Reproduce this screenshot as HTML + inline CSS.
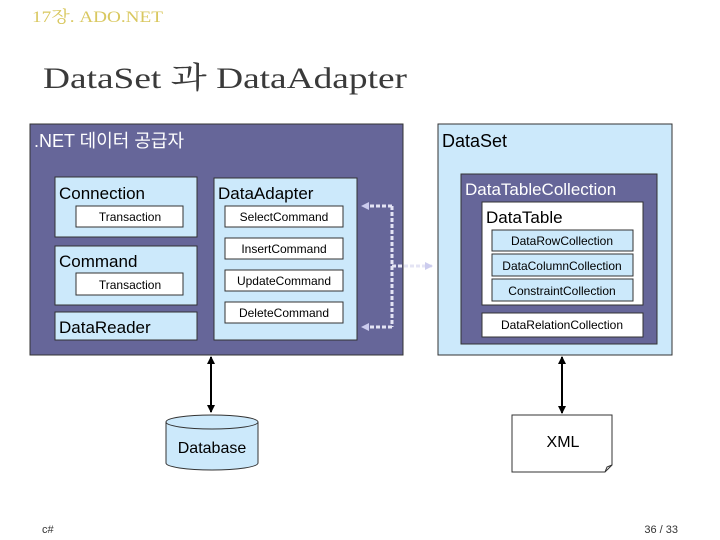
<!DOCTYPE html>
<html><head><meta charset="utf-8"><style>
body{margin:0;background:#fff;}
svg{display:block;}
text{font-family:"Liberation Sans","Noto Sans CJK KR",sans-serif;}
</style></head><body>
<svg width="720" height="540" xmlns="http://www.w3.org/2000/svg">
<defs>
<marker id="ah" markerWidth="8" markerHeight="8" refX="7" refY="4" orient="auto-start-reverse" markerUnits="userSpaceOnUse"><path d="M0,0 L8,4 L0,8 z" fill="#000"/></marker>
<marker id="dh" markerWidth="8" markerHeight="8" refX="7" refY="4" orient="auto" markerUnits="userSpaceOnUse"><path d="M0,0 L8,4 L0,8 z" fill="#ccccee"/></marker>
</defs>
<text x="32" y="22" font-size="16" fill="#d9c860" textLength="131" lengthAdjust="spacingAndGlyphs" style="font-family:'Liberation Serif','Noto Serif CJK SC',serif">17장. ADO.NET</text>
<text x="43" y="88" font-size="30" fill="#3a3a3a" textLength="364" lengthAdjust="spacingAndGlyphs" style="font-family:'Liberation Serif','Noto Serif CJK SC',serif">DataSet 과 DataAdapter</text>

<rect x="30" y="124" width="373" height="231" fill="#666699" stroke="#333"/>
<text x="34" y="147" font-size="18" fill="#fff">.NET 데이터 공급자</text>

<rect x="55" y="177" width="142" height="60" fill="#cce9fb" stroke="#333"/>
<text x="59" y="199" font-size="17" fill="#000">Connection</text>
<rect x="76" y="206" width="107" height="21" fill="#fff" stroke="#333"/>
<text x="130" y="221" font-size="12" text-anchor="middle">Transaction</text>

<rect x="55" y="246" width="142" height="59" fill="#cce9fb" stroke="#333"/>
<text x="59" y="267" font-size="17">Command</text>
<rect x="76" y="273" width="107" height="22" fill="#fff" stroke="#333"/>
<text x="130" y="289" font-size="12" text-anchor="middle">Transaction</text>

<rect x="55" y="312" width="142" height="28" fill="#cce9fb" stroke="#333"/>
<text x="59" y="333" font-size="17">DataReader</text>

<rect x="214" y="178" width="143" height="162" fill="#cce9fb" stroke="#333"/>
<text x="218" y="199" font-size="17">DataAdapter</text>
<rect x="225" y="206" width="118" height="21" fill="#fff" stroke="#333"/>
<text x="284" y="221" font-size="12" text-anchor="middle">SelectCommand</text>
<rect x="225" y="238" width="118" height="21" fill="#fff" stroke="#333"/>
<text x="284" y="253" font-size="12" text-anchor="middle">InsertCommand</text>
<rect x="225" y="270" width="118" height="21" fill="#fff" stroke="#333"/>
<text x="284" y="285" font-size="12" text-anchor="middle">UpdateCommand</text>
<rect x="225" y="302" width="118" height="21" fill="#fff" stroke="#333"/>
<text x="284" y="317" font-size="12" text-anchor="middle">DeleteCommand</text>

<g stroke="#e4e4f4" stroke-width="3" stroke-dasharray="4,2" fill="none">
<path d="M392,206 V327"/>
<path d="M392,206 H362" marker-end="url(#dh)"/>
<path d="M392,327 H362" marker-end="url(#dh)"/>
<path d="M392,266 H432" marker-end="url(#dh)"/>
</g>

<rect x="438" y="124" width="234" height="231" fill="#cce9fb" stroke="#333"/>
<text x="442" y="147" font-size="18">DataSet</text>
<rect x="461" y="174" width="196" height="170" fill="#666699" stroke="#333"/>
<text x="465" y="195" font-size="17" fill="#fff">DataTableCollection</text>
<rect x="482" y="202" width="161" height="103" fill="#fff" stroke="#333"/>
<text x="486" y="223" font-size="17">DataTable</text>
<rect x="492" y="230" width="141" height="21" fill="#cce9fb" stroke="#333"/>
<text x="562" y="245" font-size="12" text-anchor="middle">DataRowCollection</text>
<rect x="492" y="254" width="141" height="22" fill="#cce9fb" stroke="#333"/>
<text x="562" y="270" font-size="12" text-anchor="middle">DataColumnCollection</text>
<rect x="492" y="279" width="141" height="22" fill="#cce9fb" stroke="#333"/>
<text x="562" y="295" font-size="12" text-anchor="middle">ConstraintCollection</text>
<rect x="482" y="313" width="161" height="24" fill="#fff" stroke="#333"/>
<text x="562" y="329" font-size="12" text-anchor="middle">DataRelationCollection</text>

<line x1="211" y1="357" x2="211" y2="412" stroke="#000" stroke-width="2" marker-start="url(#ah)" marker-end="url(#ah)"/>
<line x1="562" y1="357" x2="562" y2="413" stroke="#000" stroke-width="2" marker-start="url(#ah)" marker-end="url(#ah)"/>

<path d="M166,422 V463 A46,7 0 0 0 258,463 V422" fill="#cce9fb" stroke="#333"/>
<ellipse cx="212" cy="422" rx="46" ry="7" fill="#cce9fb" stroke="#333"/>
<text x="212" y="453" font-size="16" text-anchor="middle">Database</text>

<path d="M512,415 H612 V465 L605,472 H512 Z" fill="#fff" stroke="#333"/>
<path d="M605,472 L607,467 L612,465" fill="none" stroke="#333"/>
<text x="563" y="447" font-size="16" text-anchor="middle">XML</text>

<text x="42" y="533" font-size="11" fill="#333">c#</text>
<text x="678" y="533" font-size="11" fill="#333" text-anchor="end">36 / 33</text>
</svg>
</body></html>
